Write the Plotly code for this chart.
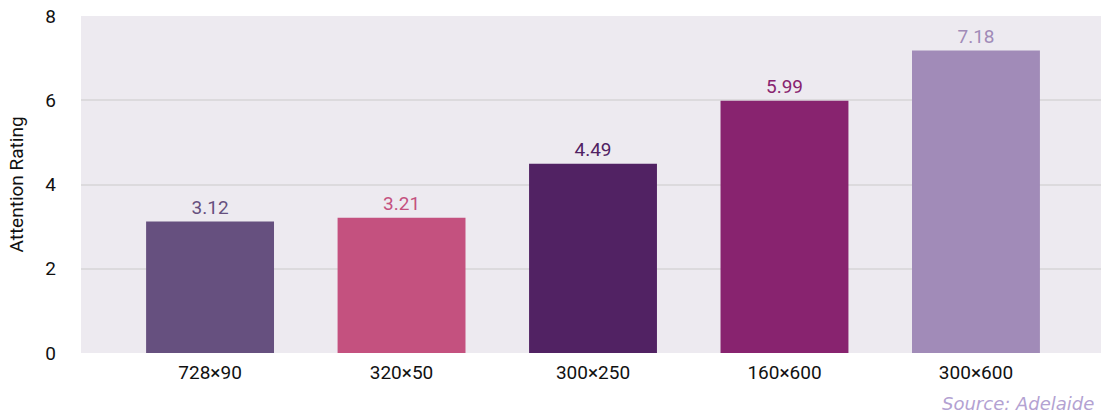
import plotly.graph_objects as go

categories = ["728×90", "320×50", "300×250", "160×600", "300×600"]
values = [3.12, 3.21, 4.49, 5.99, 7.18]
colors = ["#66507f", "#c4517f", "#512263", "#88236f", "#a18bb8"]
y_ticks = [0, 2, 4, 6, 8]

fig = go.Figure(go.Bar(
    x=categories, y=values,
    marker=dict(color=colors, line=dict(width=0)),
    width=0.668,
    text=[f"{v:.2f}" for v in values],
    textposition="outside",
    textfont=dict(family="Roboto", size=19, color=colors),
    cliponaxis=False,
))

fig.update_layout(
    width=1101, height=417,
    margin=dict(l=81, r=0, t=16, b=64),
    paper_bgcolor="white",
    plot_bgcolor="#edeaf0",
    showlegend=False,
    xaxis=dict(
        range=[-0.674, 4.653],
        showgrid=False, zeroline=False, showline=False,
        ticks="", tickfont=dict(family="Roboto", size=19, color="#111111"),
        ticklabelstandoff=6,
    ),
    yaxis=dict(
        range=[0, 8],
        tickvals=y_ticks,
        showgrid=True, gridcolor="#dcdadd", gridwidth=2,
        zeroline=False, showline=False, ticks="",
        tickfont=dict(family="Roboto", size=19, color="#111111"),
        ticklabelstandoff=24,
        title=dict(text="Attention Rating", font=dict(family="Roboto", size=19, color="#111111"), standoff=16),
    ),
    annotations=[dict(
        text="<i>Source: Adelaide</i>",
        xref="paper", yref="paper", x=0.995, y=-0.151,
        xanchor="right", yanchor="middle", showarrow=False,
        font=dict(family="DejaVu Sans", size=18, color="#b3a2d2"),
    )],
)

fig.write_html("out.html")
